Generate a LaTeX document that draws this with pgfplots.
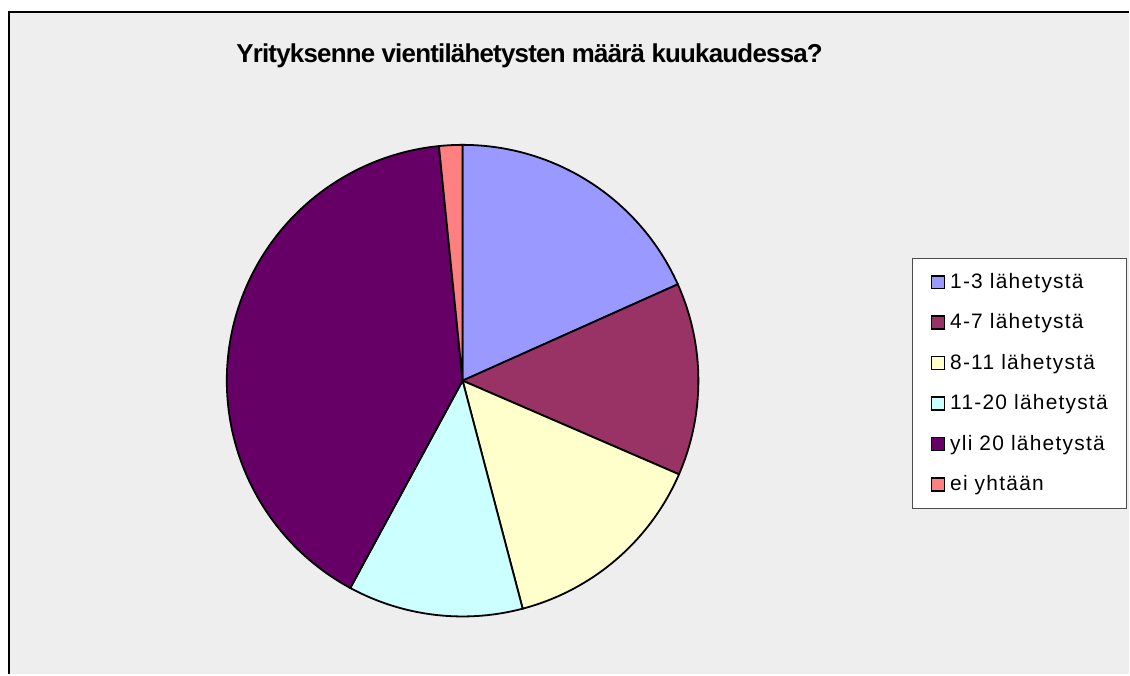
\documentclass[border=0pt]{standalone}
\usepackage{pgfplots}
\pgfplotsset{compat=1.18}
\usepackage{pgfplotstable}
\usepackage{fontspec}
\setmainfont{Liberation Sans}
\definecolor{cA}{HTML}{9999FF}
\definecolor{cB}{HTML}{993366}
\definecolor{cC}{HTML}{FFFFCC}
\definecolor{cD}{HTML}{CCFFFF}
\definecolor{cE}{HTML}{660066}
\definecolor{cF}{HTML}{FF8080}
\definecolor{bg}{HTML}{EEEEEE}
\pgfplotstableread{
label value
a 18.3
b 13.2
c 14.4
d 12.0
e 40.5
f 1.6
}\pietable
\pgfplotstablegetelem{0}{value}\of\pietable \let\vA\pgfplotsretval
\pgfplotstablegetelem{1}{value}\of\pietable \let\vB\pgfplotsretval
\pgfplotstablegetelem{2}{value}\of\pietable \let\vC\pgfplotsretval
\pgfplotstablegetelem{3}{value}\of\pietable \let\vD\pgfplotsretval
\pgfplotstablegetelem{4}{value}\of\pietable \let\vE\pgfplotsretval
\pgfplotstablegetelem{5}{value}\of\pietable \let\vF\pgfplotsretval
\pgfmathsetmacro\aA{90}
\pgfmathsetmacro\aB{\aA-3.6*\vA}
\pgfmathsetmacro\aC{\aB-3.6*\vB}
\pgfmathsetmacro\aD{\aC-3.6*\vC}
\pgfmathsetmacro\aE{\aD-3.6*\vD}
\pgfmathsetmacro\aF{\aE-3.6*\vE}
\pgfmathsetmacro\aG{\aF-3.6*\vF}
\begin{document}
\begin{tikzpicture}
\begin{axis}[
  at={(0,0)}, anchor=south west,
  scale only axis, width=1130bp, height=675bp,
  xmin=0, xmax=1130, ymin=0, ymax=675,
  axis lines=none, clip=false,
  legend style={at={(axis cs:913,417)}, anchor=north west,
    draw=black!70, fill=white, line width=1bp,
    inner xsep=18bp, inner ysep=14bp,
    font=\fontsize{21}{24}\selectfont\addfontfeature{LetterSpace=6},
    row sep=20.5bp,
    nodes={inner sep=1bp, text height=15bp, text depth=3bp},
    /tikz/every odd column/.append style={column sep=4bp}},
  legend cell align=left,
  legend image code/.code={\draw[#1,draw=black,line width=1.5bp] (0bp,-6.5bp) rectangle (13bp,6.5bp);},
]
\fill[white] (0,0) rectangle (1130,675);
\fill[bg] (9,0) rectangle (1130,663);
\draw[black, line width=2bp] (9,0) -- (9,663) -- (1130,663);
\addplot[fill=cA, draw=black, line width=1.8bp, domain=\aB:\aA, samples=80] ({463+236*cos(x)},{294+236*sin(x)}) -- (463,294) -- cycle;
\addlegendentry{1-3 lähetystä}
\addplot[fill=cB, draw=black, line width=1.8bp, domain=\aC:\aB, samples=80] ({463+236*cos(x)},{294+236*sin(x)}) -- (463,294) -- cycle;
\addlegendentry{4-7 lähetystä}
\addplot[fill=cC, draw=black, line width=1.8bp, domain=\aD:\aC, samples=80] ({463+236*cos(x)},{294+236*sin(x)}) -- (463,294) -- cycle;
\addlegendentry{8-11 lähetystä}
\addplot[fill=cD, draw=black, line width=1.8bp, domain=\aE:\aD, samples=80] ({463+236*cos(x)},{294+236*sin(x)}) -- (463,294) -- cycle;
\addlegendentry{11-20 lähetystä}
\addplot[fill=cE, draw=black, line width=1.8bp, domain=\aF:\aE, samples=160] ({463+236*cos(x)},{294+236*sin(x)}) -- (463,294) -- cycle;
\addlegendentry{yli 20 lähetystä}
\addplot[fill=cF, draw=black, line width=1.8bp, domain=\aG:\aF, samples=20] ({463+236*cos(x)},{294+236*sin(x)}) -- (463,294) -- cycle;
\addlegendentry{ei yhtään}
\node[anchor=base, font=\fontsize{26}{30}\selectfont\bfseries\addfontfeature{LetterSpace=-3}] at (axis cs:530,612) {Yrityksenne vientilähetysten määrä kuukaudessa?};
\end{axis}
\end{tikzpicture}
\end{document}
